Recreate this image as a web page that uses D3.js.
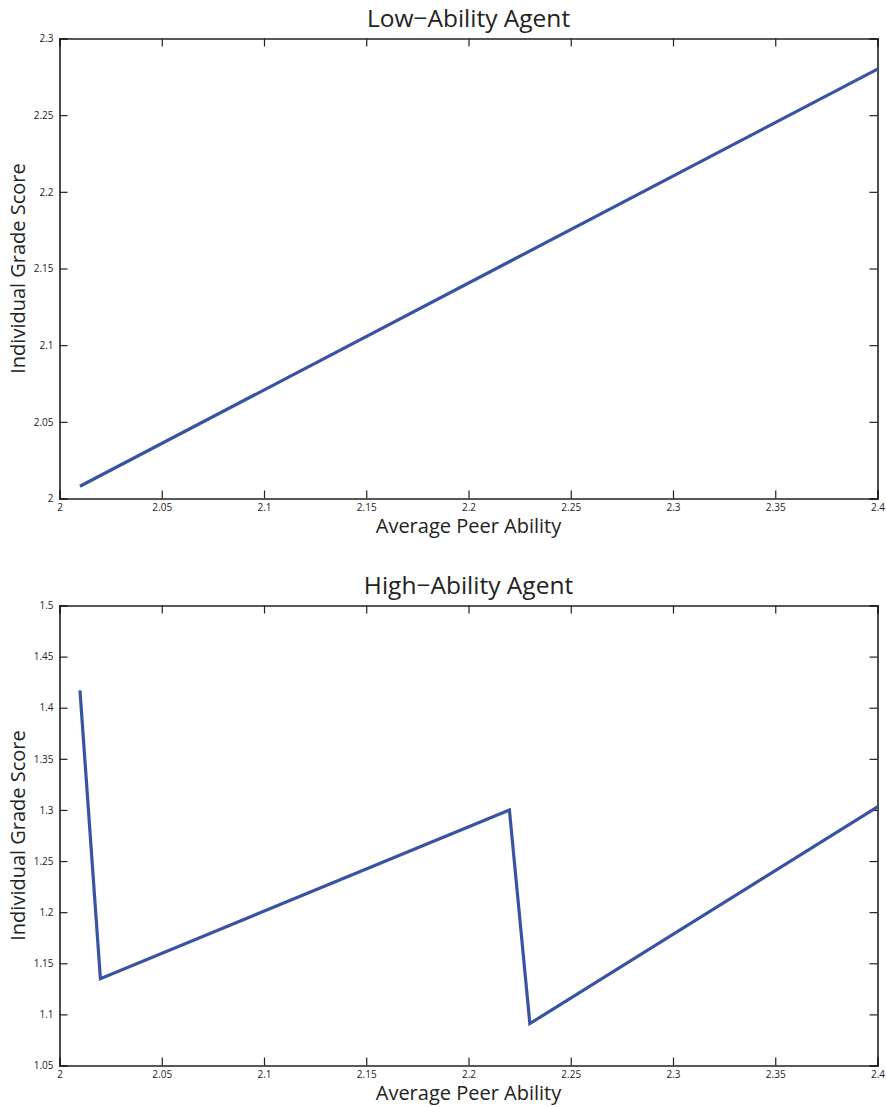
<!DOCTYPE html>
<html lang="en">

<head>
    <meta charset="utf-8">
    <title>Peer ability vs grade score</title>
    <script type="text/javascript" src="https://cdn.jsdelivr.net/npm/d3@7"></script>
    <style type="text/css">
    body {
        margin: 0;
        background: #fff;
    }
    text {
        font-family: "Open Sans", sans-serif;
        fill: #222;
    }
    .tick text {
        font-size: 10px;
    }
    .domain, .tick line {
        stroke: #222;
    }
    </style>
</head>

<body>
    <script type="text/javascript">
    //svg size
    var w = 886;
    var h = 1107;

    //low-ability agent
    var lowX = [2.01, 2.4];
    var lowY = [2.008, 2.28];

    //high-ability agent
    var highX = [2.01, 2.02, 2.22, 2.23, 2.4];
    var highY = [1.417, 1.135, 1.3, 1.091, 1.303];

    //ticks
    var xTicks = [2, 2.05, 2.1, 2.15, 2.2, 2.25, 2.3, 2.35, 2.4];
    var lowTicks = [2, 2.05, 2.1, 2.15, 2.2, 2.25, 2.3];
    var highTicks = [1.05, 1.1, 1.15, 1.2, 1.25, 1.3, 1.35, 1.4, 1.45, 1.5];

    var fmt = function(d) { return String(+d.toFixed(2)); };

    var svg = d3.select('body')
        .append('svg')
        .attr('width', w)
        .attr('height', h);

    var left = 59.5, right = 877.5;

    function panel(title, xs, ys, yTicks, top, bottom) {
        var x = d3.scaleLinear().domain([2, 2.4]).range([left, right]);
        var y = d3.scaleLinear().domain([yTicks[0], yTicks[yTicks.length - 1]]).range([bottom, top]);

        var g = svg.append('g');

        //frame axes, ticks point inward
        g.append('g')
            .attr('transform', 'translate(0,' + bottom + ')')
            .call(d3.axisBottom(x).tickValues(xTicks).tickSize(-8).tickPadding(5).tickFormat(fmt));
        g.append('g')
            .attr('transform', 'translate(0,' + top + ')')
            .call(d3.axisTop(x).tickValues(xTicks).tickSize(-8).tickFormat(''));
        g.append('g')
            .attr('transform', 'translate(' + left + ',0)')
            .call(d3.axisLeft(y).tickValues(yTicks).tickSize(-8).tickPadding(6).tickFormat(fmt));
        g.append('g')
            .attr('transform', 'translate(' + right + ',0)')
            .call(d3.axisRight(y).tickValues(yTicks).tickSize(-8).tickFormat(''));

        g.selectAll('.domain').attr('stroke-width', 1.6);
        g.selectAll('.tick line').attr('stroke-width', 1.2);
        g.selectAll('.tick text').attr('fill', '#222').attr('font-family', '"Open Sans", sans-serif');

        //line
        var line = d3.line()
            .x(function(d) { return x(d[0]); })
            .y(function(d) { return y(d[1]); });
        g.append('path')
            .datum(d3.zip(xs, ys))
            .attr('fill', 'none')
            .attr('stroke', '#3953a4')
            .attr('stroke-width', 3.2)
            .attr('stroke-linejoin', 'miter')
            .attr('d', line);

        //title and labels
        g.append('text')
            .attr('x', (left + right) / 2)
            .attr('y', top - 12)
            .attr('text-anchor', 'middle')
            .style('font-size', '24.5px')
            .text(title);
        g.append('text')
            .attr('x', (left + right) / 2)
            .attr('y', bottom + 34)
            .attr('text-anchor', 'middle')
            .style('font-size', '20px')
            .text('Average Peer Ability');
        g.append('text')
            .attr('transform', 'translate(' + 25 + ',' + (top + bottom) / 2 + ') rotate(-90)')
            .attr('text-anchor', 'middle')
            .style('font-size', '20px')
            .text('Individual Grade Score');
    }

    panel('Low\u2212Ability Agent', lowX, lowY, lowTicks, 38.5, 498.5);
    panel('High\u2212Ability Agent', highX, highY, highTicks, 605.5, 1065.5);
    </script>
</body>
</html>
